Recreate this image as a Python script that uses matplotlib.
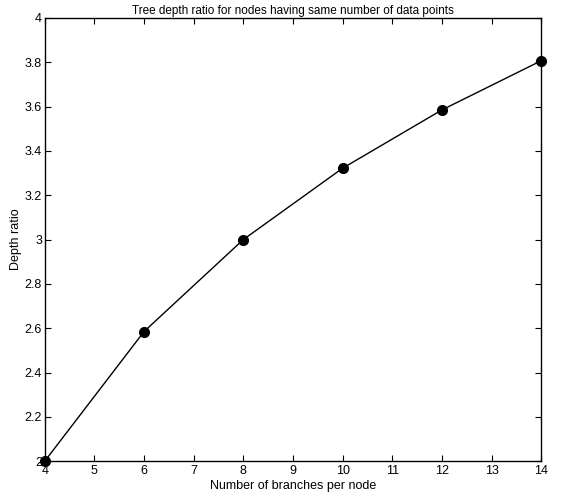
import matplotlib
matplotlib.use("Agg")
import matplotlib.pyplot as plt

branches = [4, 6, 8, 10, 12, 14]
depth_ratio = [2.0, 2.585, 3.0, 3.322, 3.585, 3.807]
xticks = [4, 5, 6, 7, 8, 9, 10, 11, 12, 13, 14]
yticks = [2, 2.2, 2.4, 2.6, 2.8, 3, 3.2, 3.4, 3.6, 3.8, 4]
ytick_labels = ["2", "2.2", "2.4", "2.6", "2.8", "3", "3.2", "3.4", "3.6", "3.8", "4"]

plt.rcParams['font.family'] = ['Liberation Sans', 'DejaVu Sans']
fig = plt.figure(figsize=(5.74, 4.98), dpi=100)
ax = fig.add_axes([0.078, 0.074, 0.865, 0.89])
ax.plot(branches, depth_ratio, color='black', lw=1.0, marker='o', ms=7,
        mfc='black', mec='black', clip_on=False, zorder=3)
ax.set_xlim(4, 14)
ax.set_ylim(2, 4)
ax.set_xticks(xticks)
ax.set_yticks(yticks)
ax.set_yticklabels(ytick_labels)
ax.tick_params(direction='in', length=4.5, width=0.8, top=True, right=True,
               labelsize=9, pad=2)
ax.tick_params(axis='x', pad=3)
for s in ax.spines.values():
    s.set_linewidth(1.0)
ax.set_title("Tree depth ratio for nodes having same number of data points",
             fontsize=8.5, pad=3)
ax.set_xlabel("Number of branches per node", fontsize=9, labelpad=2)
ax.set_ylabel("Depth ratio", fontsize=9, labelpad=2)
fig.savefig("out.png", dpi=100)
